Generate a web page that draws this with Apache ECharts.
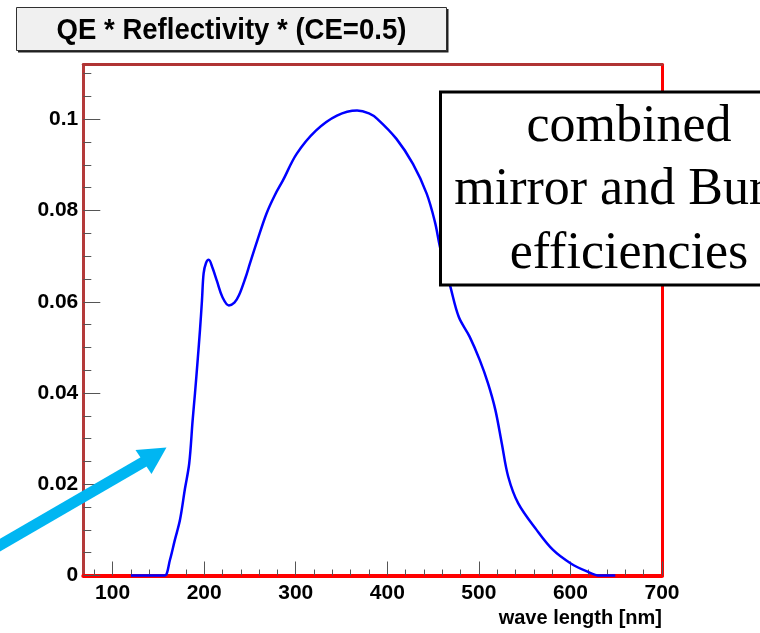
<!DOCTYPE html>
<html>
<head>
<meta charset="utf-8">
<script src="https://cdn.jsdelivr.net/npm/echarts@6/dist/echarts.min.js"></script>
<style>
  html, body { margin: 0; padding: 0; background: #ffffff; }
  #chart { width: 760px; height: 633px; }
</style>
</head>
<body>
<div id="chart"></div>
<script>
// Combined efficiency curve: QE * mirror reflectivity * collection efficiency
const wavelengths = [120, 150, 157, 162.6, 168, 173.6, 179, 183.7, 187.4, 190, 192.9, 195.5, 197.6, 199.4,
  202, 205, 209, 214, 220, 227, 233, 238, 245, 250, 258, 268, 277, 286, 301, 322, 345, 367, 380, 389,
  410, 428, 443, 452, 458, 469, 478, 490, 501, 510, 518, 525, 532, 543, 563, 581, 600, 618, 632, 649];
const efficiency = [0, 0, 0, 0.0034, 0.0078, 0.0122, 0.019, 0.0246, 0.034, 0.040, 0.0472, 0.054, 0.0603, 0.0662,
  0.0685, 0.0692, 0.0675, 0.0645, 0.061, 0.0592, 0.0598, 0.0614, 0.0652, 0.0684, 0.0734, 0.0793, 0.0833, 0.0866,
  0.0924, 0.0975, 0.1008, 0.1019, 0.1013, 0.1001, 0.0957, 0.0902, 0.0837, 0.0775, 0.0716, 0.0632, 0.0567,
  0.0523, 0.0472, 0.0421, 0.0363, 0.029, 0.0217, 0.0158, 0.010, 0.0056, 0.0027, 0.0009, 0, 0];

// Axis ranges and tick positions
const xRange = [68, 700];
const yRange = [0, 0.112];
const xMajorTicks = [100, 200, 300, 400, 500, 600, 700];
const xTickLabels = ['100', '200', '300', '400', '500', '600', '700'];
const xMinorTicks = [80, 120, 140, 160, 180, 220, 240, 260, 280, 320, 340, 360, 380, 420, 440, 460, 480,
  520, 540, 560, 580, 620, 640, 660, 680];
const yMajorTicks = [0, 0.02, 0.04, 0.06, 0.08, 0.1];
const yTickLabels = ['0', '0.02', '0.04', '0.06', '0.08', '0.1'];
const yMinorTicks = [0.005, 0.01, 0.015, 0.025, 0.03, 0.035, 0.045, 0.05, 0.055, 0.065, 0.07, 0.075,
  0.085, 0.09, 0.095, 0.105, 0.11];

const titleText = 'QE * Reflectivity * (CE=0.5)';
const xAxisName = 'wave length [nm]';
const noteLines = ['combined', 'mirror and Burle', 'efficiencies'];

const labelFont = '"Liberation Sans", Arial, sans-serif';
const tickColor = '#555555';

function labelFor(values, labels) {
  return function (v) {
    const i = values.findIndex(t => Math.abs(t - v) < 1e-9);
    return i >= 0 ? labels[i] : '';
  };
}

const chart = echarts.init(document.getElementById('chart'), null, { renderer: 'canvas' });

const plainAxis = {
  axisLabel: { show: false },
  axisTick: { show: false },
  splitLine: { show: false },
  axisLine: { show: false }
};

chart.setOption({
  backgroundColor: '#ffffff',
  animation: false,
  grid: { left: 83.3, top: 64.5, width: 578.7, height: 511, containLabel: false },
  xAxis: [
    {
      type: 'value', min: xRange[0], max: xRange[1], position: 'bottom',
      axisLine: { show: true, onZero: false, lineStyle: { color: '#ff0000', width: 4 } },
      axisTick: { show: true, inside: true, length: 14, customValues: xMajorTicks, lineStyle: { color: tickColor, width: 1 } },
      axisLabel: {
        show: true, customValues: xMajorTicks, margin: 7,
        formatter: labelFor(xMajorTicks, xTickLabels),
        fontFamily: labelFont, fontWeight: 'bold', fontSize: 21, color: '#000000'
      },
      splitLine: { show: false },
      name: xAxisName, nameLocation: 'end', nameGap: 0,
      nameTextStyle: {
        fontFamily: labelFont, fontWeight: 'bold', fontSize: 20, color: '#000000',
        align: 'right', verticalAlign: 'top', padding: [33, 0, 0, 0]
      }
    },
    Object.assign({}, plainAxis, {
      type: 'value', min: xRange[0], max: xRange[1], position: 'bottom',
      axisTick: { show: true, inside: true, length: 6, customValues: xMinorTicks, lineStyle: { color: tickColor, width: 1 } }
    }),
    Object.assign({}, plainAxis, {
      type: 'value', min: xRange[0], max: xRange[1], position: 'top',
      axisLine: { show: true, onZero: false, lineStyle: { color: '#b03434', width: 3 } }
    })
  ],
  yAxis: [
    {
      type: 'value', min: yRange[0], max: yRange[1], position: 'left',
      axisLine: { show: true, onZero: false, lineStyle: { color: '#b43a3a', width: 3 } },
      axisTick: { show: true, inside: true, length: 17, customValues: yMajorTicks, lineStyle: { color: tickColor, width: 1 } },
      axisLabel: {
        show: true, customValues: yMajorTicks, margin: 5,
        formatter: labelFor(yMajorTicks, yTickLabels),
        fontFamily: labelFont, fontWeight: 'bold', fontSize: 21, color: '#000000'
      },
      splitLine: { show: false }
    },
    Object.assign({}, plainAxis, {
      type: 'value', min: yRange[0], max: yRange[1], position: 'left',
      axisTick: { show: true, inside: true, length: 8, customValues: yMinorTicks, lineStyle: { color: tickColor, width: 1 } }
    }),
    Object.assign({}, plainAxis, {
      type: 'value', min: yRange[0], max: yRange[1], position: 'right',
      axisLine: { show: true, onZero: false, lineStyle: { color: '#ff0000', width: 3 } }
    })
  ],
  series: [{
    type: 'line',
    xAxisIndex: 0, yAxisIndex: 0,
    data: wavelengths.map((w, i) => [w, efficiency[i]]),
    showSymbol: false,
    smooth: 0.35,
    clip: false,
    lineStyle: { color: '#0000ff', width: 2.5 },
    z: 5
  }],
  graphic: [
    // title box with drop shadow
    { type: 'rect', z: 10, shape: { x: 18, y: 9, width: 430.5, height: 43.5 }, style: { fill: '#202020' } },
    { type: 'rect', z: 11, shape: { x: 16.5, y: 7.5, width: 430, height: 43 }, style: { fill: '#f0f0f0', stroke: '#303030', lineWidth: 1 } },
    {
      type: 'text', z: 12, x: 231.5, y: 30.5, scaleX: 0.95, originX: 0, originY: 0,
      style: { text: titleText, font: 'bold 29px "Liberation Sans", Arial, sans-serif', fill: '#000000', align: 'center', verticalAlign: 'middle' }
    },
    // annotation box
    { type: 'rect', z: 20, shape: { x: 440.5, y: 92, width: 360, height: 193 }, style: { fill: '#ffffff', stroke: '#000000', lineWidth: 3 } },
    { type: 'text', z: 21, x: 629, y: 127, style: { text: noteLines[0], font: '52px "Liberation Serif", "Times New Roman", serif', fill: '#000000', align: 'center', verticalAlign: 'middle' } },
    { type: 'text', z: 21, x: 629, y: 190.5, style: { text: noteLines[1], font: '52px "Liberation Serif", "Times New Roman", serif', fill: '#000000', align: 'center', verticalAlign: 'middle' } },
    { type: 'text', z: 21, x: 629, y: 254, style: { text: noteLines[2], font: '52px "Liberation Serif", "Times New Roman", serif', fill: '#000000', align: 'center', verticalAlign: 'middle' } },
    // pointer arrow
    { type: 'line', z: 30, shape: { x1: -5, y1: 548, x2: 146, y2: 460.5 }, style: { stroke: '#00b6f2', lineWidth: 11 } },
    { type: 'polygon', z: 30, shape: { points: [[166.5, 447.5], [135.5, 450], [151.5, 474]] }, style: { fill: '#00b6f2' } }
  ]
});
</script>
</body>
</html>
